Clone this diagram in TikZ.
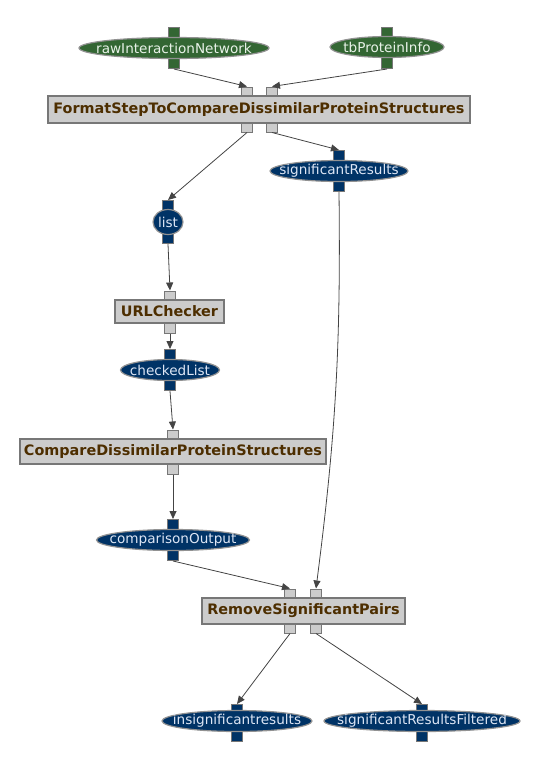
\documentclass[tikz,border=0pt]{standalone}
\usepackage{fontspec}
\setmainfont{DejaVu Sans}
\usetikzlibrary{positioning,shapes.geometric,arrows.meta,backgrounds}
\definecolor{inputfill}{HTML}{336633}
\definecolor{datafill}{HTML}{003366}
\definecolor{stepfill}{HTML}{CCCCCC}
\definecolor{steptext}{HTML}{4D2E00}
\definecolor{datatext}{HTML}{DDE6F5}
\definecolor{inputtext}{HTML}{E8F2E8}
\definecolor{edgeline}{HTML}{444444}
\definecolor{rim}{HTML}{777777}
\newcommand{\nowidth}[1]{\makebox[0pt]{#1}}
\tikzset{
    stepbox/.style={rectangle, draw=rim, line width=1.2pt, fill=stepfill, inner sep=0pt, minimum height=26pt, text=steptext, font=\fontsize{14.4}{16}\selectfont\bfseries},
    input/.style={ellipse, draw=rim!80, line width=1.2pt, fill=inputfill, inner sep=0pt, minimum height=21pt, text=inputtext, font=\fontsize{13.6}{16}\selectfont},
    data/.style={ellipse, draw=rim!80, line width=1.2pt, fill=datafill, inner sep=0pt, minimum height=21pt, text=datatext, font=\fontsize{13.6}{16}\selectfont},
    stepport/.style={rectangle, draw=rim, line width=1pt, fill=stepfill, inner sep=0pt, minimum width=11pt, minimum height=10pt},
    inport/.style={rectangle, draw=rim, line width=1pt, fill=inputfill, inner sep=0pt, minimum width=11pt, minimum height=11pt},
    dataport/.style={rectangle, draw=rim, line width=1pt, fill=datafill, inner sep=0pt, minimum width=11pt, minimum height=11pt},
    arrow/.style={-{Triangle[length=8pt, width=7pt]}, line width=0.8pt, color=edgeline}
}
\begin{document}
\begin{tikzpicture}[x=1pt, y=-1pt]
\useasboundingbox (0,0) rectangle (539,769);

% ports, drawn behind their nodes
\begin{scope}[on background layer]
\node[inport] (rawTop) at (174,33) {};
\node[inport] (rawOut) at (174,63) {};
\node[inport] (tbTop) at (387,33) {};
\node[inport] (tbOut) at (387,63) {};

\node[stepport] (fmtInL) at (247,92) {};
\node[stepport] (fmtInR) at (272,92) {};
\node[stepport] (fmtOutL) at (247,127) {};
\node[stepport] (fmtOutR) at (272,127) {};

\node[dataport] (sigIn) at (339,156) {};
\node[dataport] (sigOut) at (339,186) {};
\node[dataport] (listIn) at (168,206) {};
\node[dataport] (listOut) at (168,238) {};

\node[stepport] (urlIn) at (170,296) {};
\node[stepport] (urlOut) at (170,328) {};

\node[dataport] (chkIn) at (170,355) {};
\node[dataport] (chkOut) at (170,385) {};

\node[stepport] (cmpIn) at (173,435) {};
\node[stepport] (cmpOut) at (173,469) {};

\node[dataport] (outIn) at (173,525) {};
\node[dataport] (outOut) at (173,555) {};

\node[stepport] (remInL) at (290,594) {};
\node[stepport] (remInR) at (316,594) {};
\node[stepport] (remOutL) at (290,628) {};
\node[stepport] (remOutR) at (316,628) {};

\node[dataport] (insIn) at (237,710) {};
\node[dataport] (insOut) at (237,736) {};
\node[dataport] (filtIn) at (422,710) {};
\node[dataport] (filtOut) at (422,736) {};
\end{scope}

% inputs
\node[input, minimum width=190pt] (raw) at (174,48) {\nowidth{rawInteractionNetwork}};
\node[input, minimum width=114pt] (tb) at (387,47) {\nowidth{tbProteinInfo}};

% steps
\node[stepbox, minimum width=422pt, minimum height=27pt] (fmt) at (259,109.5) {FormatStepToCompareDissimilarProteinStructures};
\node[stepbox, minimum width=109pt, minimum height=23pt] (url) at (169.5,311.5) {URLChecker};
\node[stepbox, minimum width=306pt, minimum height=25pt] (cmp) at (173,451.5) {CompareDissimilarProteinStructures};
\node[stepbox, minimum width=203pt] (rem) at (303.5,611) {RemoveSignificantPairs};

% data
\node[data, minimum width=138pt] (sig) at (339,171) {\nowidth{significantResults}};
\node[data, minimum width=30pt, minimum height=25pt] (list) at (168,222) {\nowidth{list}};
\node[data, minimum width=99pt] (chk) at (170,370) {\nowidth{checkedList}};
\node[data, minimum width=153pt] (out) at (173,540) {\nowidth{comparisonOutput}};
\node[data, minimum width=150pt] (ins) at (237,721) {\nowidth{insignificantresults}};
\node[data, minimum width=196pt] (filt) at (422,721) {\nowidth{significantResultsFiltered}};

% connectors
\draw[arrow] (rawOut.south) -- (fmtInL.north);
\draw[arrow] (tbOut.south) -- (fmtInR.north);
\draw[arrow] (fmtOutL.south) -- (listIn.north);
\draw[arrow] (fmtOutR.south) -- (sigIn.north);
\draw[arrow] (listOut.south) -- (urlIn.north);
\draw[arrow] (urlOut.south) -- (chkIn.north);
\draw[arrow] (chkOut.south) -- (cmpIn.north);
\draw[arrow] (cmpOut.south) -- (outIn.north);
\draw[arrow] (outOut.south) -- (remInL.north);
\draw[arrow] (sigOut.south) to[bend left=4] (remInR.north);
\draw[arrow] (remOutL.south) -- (insIn.north);
\draw[arrow] (remOutR.south) -- (filtIn.north);

\end{tikzpicture}
\end{document}
